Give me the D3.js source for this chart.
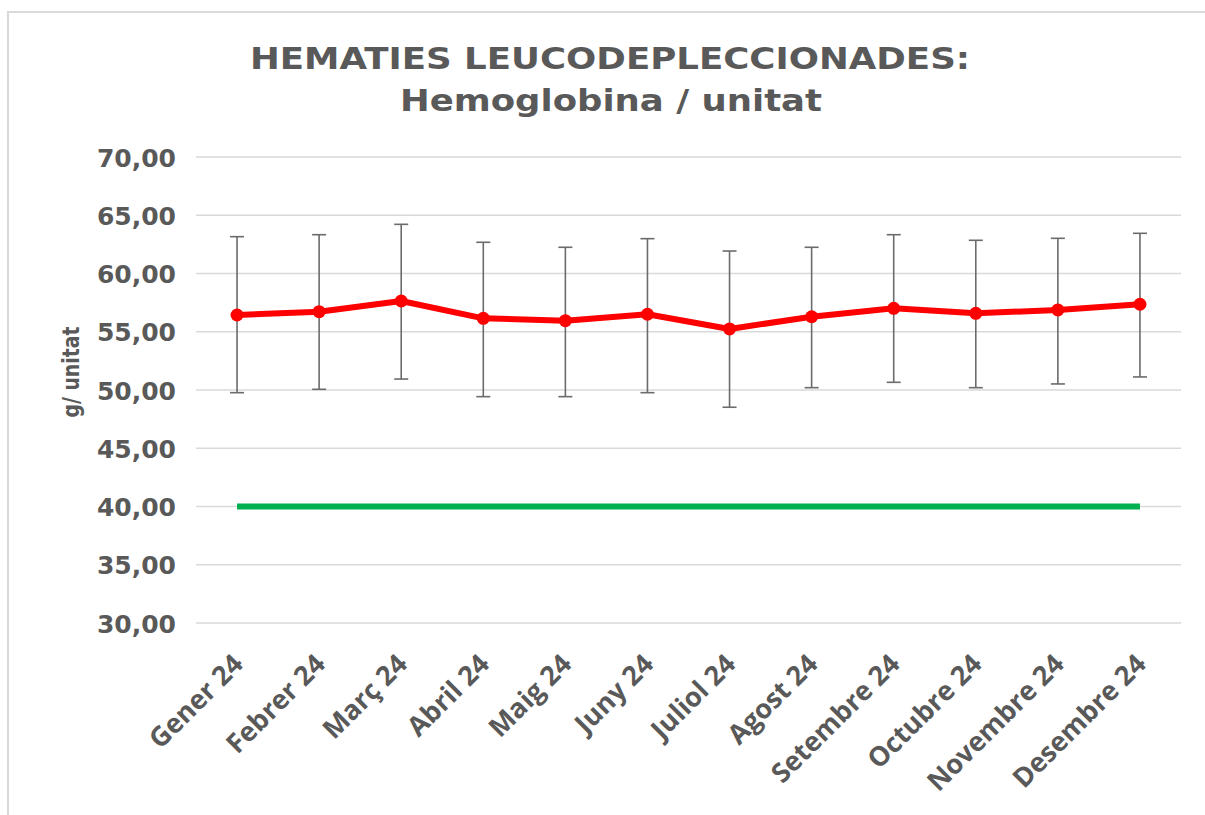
<!DOCTYPE html>
<html>
<head>
<meta charset="utf-8">
<script src="https://cdn.jsdelivr.net/npm/d3@7"></script>
<style>
  body { margin: 0; background: #fff; }
  svg { display: block; }
</style>
</head>
<body>
<svg id="chart" width="1205" height="815"></svg>
<script>
/*
 * Data
 * */
var months = ['Gener 24', 'Febrer 24', 'Març 24', 'Abril 24', 'Maig 24', 'Juny 24',
    'Juliol 24', 'Agost 24', 'Setembre 24', 'Octubre 24', 'Novembre 24', 'Desembre 24'];
var meanValues = [56.44, 56.72, 57.64, 56.15, 55.95, 56.50, 55.24, 56.29, 57.01, 56.58, 56.87, 57.36];
var upperValues = [63.16, 63.33, 64.22, 62.68, 62.25, 62.99, 61.93, 62.25, 63.33, 62.85, 63.02, 63.45];
var lowerValues = [49.77, 50.06, 50.94, 49.43, 49.43, 49.77, 48.52, 50.20, 50.66, 50.20, 50.52, 51.12];
var minimumValues = [40, 40, 40, 40, 40, 40, 40, 40, 40, 40, 40, 40];
var yTicks = [30, 35, 40, 45, 50, 55, 60, 65, 70];

var grey = '#595959',
    red = '#ff0000',
    green = '#00b050';

/*
 * Layout
 * */
var svg = d3.select('#chart');
var plotLeft = 196, plotRight = 1181, plotTop = 157, plotBottom = 623;

// frame
svg.append('path')
    .attr('d', 'M8,815 L8,12 L1205,12')
    .attr('fill', 'none')
    .attr('stroke', '#d9d9d9')
    .attr('stroke-width', 2);

var x = d3.scaleBand().domain(months).range([plotLeft, plotRight]);
var y = d3.scaleLinear().domain([30, 70]).range([plotBottom, plotTop]);
var cx = function (d) { return x(d) + x.bandwidth() / 2; };

// title
var title = svg.append('text')
    .attr('text-anchor', 'middle')
    .attr('fill', grey)
    .attr('font-family', 'DejaVu Sans, Verdana, sans-serif')
    .attr('font-weight', 'bold')
    .attr('font-size', 30);
title.append('tspan').attr('x', 610).attr('y', 69)
    .attr('textLength', 720).attr('lengthAdjust', 'spacingAndGlyphs')
    .text('HEMATIES LEUCODEPLECCIONADES:');
title.append('tspan').attr('x', 611).attr('y', 111)
    .attr('textLength', 422).attr('lengthAdjust', 'spacingAndGlyphs')
    .text('Hemoglobina / unitat');

// gridlines
svg.append('g')
    .selectAll('line')
    .data(yTicks)
    .join('line')
    .attr('x1', plotLeft).attr('x2', plotRight)
    .attr('y1', function (d) { return y(d); })
    .attr('y2', function (d) { return y(d); })
    .attr('stroke', '#d9d9d9')
    .attr('stroke-width', 1.3);

// y axis labels
var yAxis = svg.append('g')
    .attr('transform', 'translate(' + (plotLeft - 20) + ',0)')
    .call(d3.axisLeft(y).tickValues(yTicks).tickSize(0).tickPadding(0)
        .tickFormat(function (d) { return d3.format('.2f')(d).replace('.', ','); }));
yAxis.select('.domain').remove();
yAxis.selectAll('text')
    .attr('fill', grey)
    .attr('font-family', 'DejaVu Sans, Verdana, sans-serif')
    .attr('font-weight', 'bold')
    .attr('font-size', 25)
    .attr('dy', '0.36em');

svg.append('text')
    .attr('transform', 'translate(79,372) rotate(-90)')
    .attr('text-anchor', 'middle')
    .attr('fill', grey)
    .attr('font-family', 'DejaVu Sans, Verdana, sans-serif')
    .attr('font-weight', 'bold')
    .attr('font-size', 23)
    .attr('textLength', 91)
    .attr('lengthAdjust', 'spacingAndGlyphs')
    .text('g/ unitat');

// x axis labels
var xAxis = svg.append('g')
    .attr('transform', 'translate(0,' + plotBottom + ')')
    .call(d3.axisBottom(x).tickSize(0).tickPadding(0));
xAxis.select('.domain').remove();
xAxis.selectAll('text')
    .attr('fill', grey)
    .attr('font-family', 'Open Sans, Lato, sans-serif')
    .attr('font-weight', 'bold')
    .attr('font-size', 27)
    .attr('text-anchor', 'end')
    .attr('dy', '0.35em')
    .attr('transform', 'translate(1,36) rotate(-45)');

// minimum line
svg.append('path')
    .datum(minimumValues)
    .attr('fill', 'none')
    .attr('stroke', green)
    .attr('stroke-width', 6)
    .attr('d', d3.line()
        .x(function (d, i) { return cx(months[i]); })
        .y(function (d) { return y(d); }));

// error bars
var err = svg.append('g')
    .attr('stroke', '#6b6b6b')
    .attr('stroke-width', 1.6);
months.forEach(function (m, i) {
    var px = cx(m);
    err.append('line').attr('x1', px).attr('x2', px)
        .attr('y1', y(upperValues[i])).attr('y2', y(lowerValues[i]));
    [upperValues[i], lowerValues[i]].forEach(function (v) {
        err.append('line').attr('x1', px - 7).attr('x2', px + 7)
            .attr('y1', y(v)).attr('y2', y(v));
    });
});

// mean series
svg.append('path')
    .datum(meanValues)
    .attr('fill', 'none')
    .attr('stroke', red)
    .attr('stroke-width', 6)
    .attr('stroke-linejoin', 'round')
    .attr('d', d3.line()
        .x(function (d, i) { return cx(months[i]); })
        .y(function (d) { return y(d); }));

svg.append('g')
    .selectAll('circle')
    .data(meanValues)
    .join('circle')
    .attr('cx', function (d, i) { return cx(months[i]); })
    .attr('cy', function (d) { return y(d); })
    .attr('r', 6.5)
    .attr('fill', red);
</script>
</body>
</html>
